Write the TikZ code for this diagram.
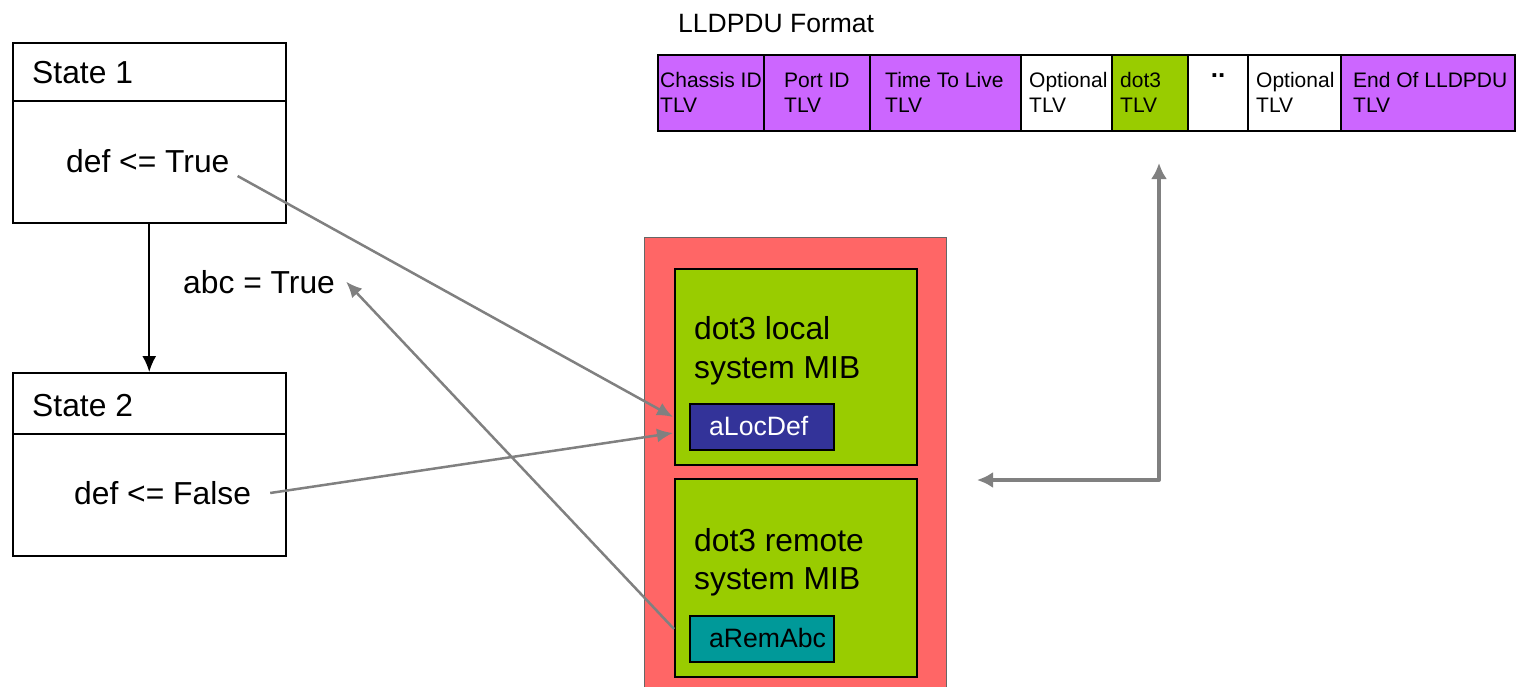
\documentclass[tikz,border=0pt]{standalone}
\usepackage{fontspec}
\setmainfont{Liberation Sans}
\usetikzlibrary{arrows.meta}
\definecolor{tlvpurple}{HTML}{CC66FF}
\definecolor{mibgreen}{HTML}{99CC00}
\definecolor{mibred}{HTML}{FF6666}
\definecolor{locblue}{HTML}{333399}
\definecolor{remteal}{HTML}{009999}
\definecolor{linkgray}{HTML}{808080}
\newcommand{\statefont}{\fontsize{31.8}{37}\selectfont}
\newcommand{\tagfont}{\fontsize{26.6}{31}\selectfont}
\newcommand{\fmtfont}{\fontsize{26.5}{31}\selectfont}
\newcommand{\cellfont}{\fontsize{21}{25}\selectfont}

\begin{document}
\begin{tikzpicture}[x=1pt, y=-1pt,
    box/.style={draw, line width=1.5pt, inner sep=0pt, anchor=north west},
    lbl/.style={inner sep=0pt, anchor=base west, font=\statefont},
    tag/.style={inner sep=0pt, anchor=base west, font=\tagfont},
    cell/.style={inner sep=0pt, anchor=base west, font=\cellfont},
    link/.style={draw=linkgray, line width=2.5pt, -{Latex[length=16pt,width=14pt]}}]
        \useasboundingbox (0,0) rectangle (1519,686);

        % state machine
        \node[box, minimum width=273pt, minimum height=180pt] (state1) at (12,42) {};
        \node[box, minimum width=273pt, minimum height=183pt] (state2) at (12,372) {};
        \draw[line width=1.5pt] ([yshift=-59pt]state1.north west) -- ([yshift=-59pt]state1.north east);
        \draw[line width=1.5pt] ([yshift=-62pt]state2.north west) -- ([yshift=-62pt]state2.north east);
        \node[lbl] (title1) at (32,83) {State 1};
        \node[lbl] (deftrue) at (66,172) {def <= True};
        \node[lbl] (abctrue) at (183,293) {abc = True};
        \node[lbl] (title2) at (32,416) {State 2};
        \node[lbl] (deffalse) at (74,504) {def <= False};
        \draw[line width=2pt, -{Latex[length=16pt,width=14pt]}] (state1.south) -- (state2.north);

        % MIBs
        \node[box, draw=black!60, line width=1pt, fill=mibred, minimum width=302pt, minimum height=460pt] (mib) at (644,237) {};
        \node[box, line width=2pt, fill=mibgreen, minimum width=242pt, minimum height=196pt] (locmib) at (674,268) {};
        \node[box, line width=2pt, fill=mibgreen, minimum width=242pt, minimum height=198pt] (remmib) at (674,478) {};
        \node[box, line width=2pt, fill=locblue, minimum width=144pt, minimum height=46pt] (alocdef) at (689,403) {};
        \node[box, line width=2pt, fill=remteal, minimum width=144pt, minimum height=46pt] (aremabc) at (689,615) {};
        \node[lbl] (loc1) at (694,339) {dot3 local};
        \node[lbl] (loc2) at (694,378) {system MIB};
        \node[lbl] (rem1) at (694,551) {dot3 remote};
        \node[lbl] (rem2) at (694,589) {system MIB};
        \node[tag, text=white] (loctag) at (709,435) {aLocDef};
        \node[tag] (remtag) at (709,647) {aRemAbc};

        % LLDPDU format
        \node[inner sep=0pt, anchor=base west, font=\fmtfont] (fmt) at (678,32) {LLDPDU Format};
        \foreach \xa/\xb/\dx/\col/\tname in {658/764/2/tlvpurple/Chassis ID, 764/870/20/tlvpurple/Port ID,
            870/1021/15/tlvpurple/Time To Live, 1021/1112/8/white/Optional, 1112/1188/8/mibgreen/dot3,
            1248/1341/8/white/Optional, 1341/1515/12/tlvpurple/End Of LLDPDU}{
            \draw[line width=1.5pt, fill=\col] (\xa,55) rectangle (\xb,131);
            \node[cell] (name\xa) at (\xa+\dx,87) {\tname};
            \node[cell] (tlv\xa) at (\xa+\dx,112) {TLV};
        }
        \draw[line width=1.5pt, fill=white] (1188,55) rectangle (1248,131);
        \node[cell, anchor=base, font=\fontsize{26}{30}\selectfont\bfseries] (dots) at (1218,77) {..};

        % links
        \coordinate (loctip1) at (673,417);
        \coordinate (loctip2) at (673,433);
        \coordinate (remtail) at (674,629);
        \draw[link] ([xshift=8pt,yshift=-4pt]deftrue.base east) -- (loctip1);
        \draw[link] ([xshift=19pt,yshift=11pt]deffalse.base east) -- (loctip2);
        \draw[link] (remtail) -- ([xshift=11pt]abctrue.east);
        \coordinate (pdutip) at (1159,163);
        \coordinate (corner) at (1159,480);
        \coordinate (mibtip) at (977,480);
        \draw[draw=linkgray, line width=4pt, line join=round, {Latex[length=16pt,width=16pt]}-{Latex[length=16pt,width=16pt]}] (mibtip) -- (corner) -- (pdutip);
    \end{tikzpicture}
\end{document}
